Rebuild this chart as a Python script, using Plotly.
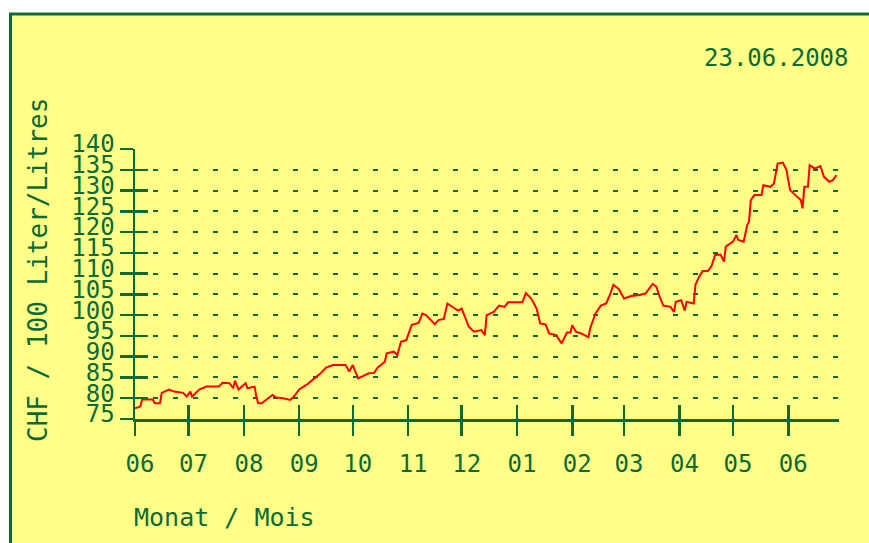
import plotly.graph_objects as go

# ---- data ----
dates = [
    "2007-06-01", "2007-06-04", "2007-06-05", "2007-06-11", "2007-06-12", "2007-06-15",
    "2007-06-16", "2007-06-20", "2007-06-23", "2007-06-28", "2007-06-30", "2007-07-02",
    "2007-07-03", "2007-07-07", "2007-07-11", "2007-07-18", "2007-07-20", "2007-07-24",
    "2007-07-26", "2007-07-27", "2007-07-29", "2007-08-02", "2007-08-03", "2007-08-07",
    "2007-08-08", "2007-08-09", "2007-08-11", "2007-08-15", "2007-08-17", "2007-08-19",
    "2007-08-23", "2007-08-27", "2007-08-29", "2007-09-01", "2007-09-05", "2007-09-09",
    "2007-09-13", "2007-09-16", "2007-09-20", "2007-09-27", "2007-09-29", "2007-10-01",
    "2007-10-04", "2007-10-10", "2007-10-13", "2007-10-15", "2007-10-19", "2007-10-20",
    "2007-10-24", "2007-10-26", "2007-10-28", "2007-10-31", "2007-11-03", "2007-11-07",
    "2007-11-09", "2007-11-11", "2007-11-14", "2007-11-16", "2007-11-18", "2007-11-21",
    "2007-11-23", "2007-11-26", "2007-11-29", "2007-12-01", "2007-12-03", "2007-12-05",
    "2007-12-08", "2007-12-12", "2007-12-14", "2007-12-15", "2007-12-19", "2007-12-22",
    "2007-12-25", "2007-12-27", "2008-01-04", "2008-01-06", "2008-01-09", "2008-01-12",
    "2008-01-14", "2008-01-17", "2008-01-19", "2008-01-23", "2008-01-26", "2008-01-29",
    "2008-01-31", "2008-02-01", "2008-02-03", "2008-02-06", "2008-02-10", "2008-02-11",
    "2008-02-14", "2008-02-17", "2008-02-20", "2008-02-22", "2008-02-24", "2008-02-27",
    "2008-03-01", "2008-03-05", "2008-03-09", "2008-03-13", "2008-03-17", "2008-03-19",
    "2008-03-21", "2008-03-23", "2008-03-27", "2008-03-29", "2008-03-30", "2008-04-02",
    "2008-04-04", "2008-04-05", "2008-04-09", "2008-04-10", "2008-04-12", "2008-04-14",
    "2008-04-17", "2008-04-19", "2008-04-21", "2008-04-24", "2008-04-26", "2008-04-27",
    "2008-05-01", "2008-05-03", "2008-05-04", "2008-05-07", "2008-05-09", "2008-05-10",
    "2008-05-11", "2008-05-13", "2008-05-17", "2008-05-18", "2008-05-22", "2008-05-24",
    "2008-05-26", "2008-05-29", "2008-05-31", "2008-06-01", "2008-06-02", "2008-06-05",
    "2008-06-08", "2008-06-09", "2008-06-10", "2008-06-12", "2008-06-13", "2008-06-16",
    "2008-06-19", "2008-06-21", "2008-06-24", "2008-06-26", "2008-06-28",
]
prices = [
    77.6, 78.0, 79.7, 79.7, 78.8, 78.8,
    81.3, 82.1, 81.6, 81.3, 80.4, 81.6,
    80.4, 82.1, 82.8, 82.8, 83.7, 83.6,
    82.4, 84.2, 82.1, 83.6, 82.4, 82.8,
    80.4, 78.8, 78.8, 80.0, 80.8, 80.2,
    80.0, 79.6, 80.4, 82.1, 83.2, 84.6,
    86.0, 87.4, 88.0, 88.0, 86.4, 88.0,
    84.8, 86.0, 86.1, 87.4, 88.8, 90.8,
    91.2, 90.4, 93.6, 94.0, 97.6, 98.2,
    100.4, 100.0, 98.8, 97.8, 98.8, 99.1,
    102.8, 102.0, 101.1, 101.6, 99.6, 97.2,
    96.0, 96.4, 95.2, 100.0, 100.8, 102.3,
    102.0, 103.1, 103.1, 105.3, 104.0, 101.6,
    98.0, 97.8, 95.6, 95.2, 93.2, 95.8,
    95.8, 97.6, 96.0, 95.6, 94.7, 96.8,
    100.4, 102.3, 102.8, 104.8, 107.3, 106.3,
    104.0, 104.6, 104.8, 105.2, 107.5, 106.9,
    104.4, 102.3, 102.0, 100.8, 103.2, 103.6,
    101.1, 103.2, 102.8, 107.3, 109.2, 110.6,
    110.6, 111.8, 114.5, 114.6, 112.9, 116.5,
    117.7, 119.3, 118.1, 117.7, 121.7, 122.5,
    127.7, 128.9, 128.9, 131.3, 130.9, 131.7,
    136.5, 136.7, 134.9, 132.5, 130.1, 128.9,
    127.7, 125.7, 130.9, 130.9, 136.1, 135.3,
    135.9, 133.3, 132.1, 132.5, 133.7,
]
month_ticks = [
    "2007-06-01", "2007-07-01", "2007-08-01", "2007-09-01", "2007-10-01", "2007-11-01",
    "2007-12-01", "2008-01-01", "2008-02-01", "2008-03-01", "2008-04-01", "2008-05-01",
    "2008-06-01",
]
month_labels = ["06", "07", "08", "09", "10", "11", "12", "01", "02", "03", "04", "05", "06"]
y_ticks = [75, 80, 85, 90, 95, 100, 105, 110, 115, 120, 125, 130, 135, 140]
y_title = "CHF / 100 Liter/Litres"
x_title = "Monat / Mois"
date_label = "23.06.2008"

# ---- style ----
GREEN = "#0b6a35"
YELLOW = "#ffff88"
FONT = "DejaVu Sans Mono"
W, H = 869, 543
PAGE_L, PAGE_R, PAGE_T, PAGE_B = 135, 839, 149, 419   # plot area in pixels
L, T = PAGE_L, PAGE_T
R = W - PAGE_R
B = H - PAGE_B
PW, PH = PAGE_R - PAGE_L, PAGE_B - PAGE_T


def px_x(x):
    return (x - PAGE_L) / PW


def px_y(y):
    return (PAGE_B - y) / PH


x_range = ["2007-06-01", "2008-06-29 10:00"]
y_range = [75, 140]

fig = go.Figure()
fig.add_trace(go.Scatter(
    x=dates, y=prices, mode="lines",
    line=dict(color="#ff0000", width=2),
    showlegend=False, hoverinfo="skip",
))
# invisible companion trace to carry the overlay axes (inside half of the crossing ticks)
fig.add_trace(go.Scatter(
    x=dates, y=prices, mode="lines", xaxis="x2", yaxis="y2",
    line=dict(color="rgba(0,0,0,0)", width=0),
    showlegend=False, hoverinfo="skip",
))

axis_font = dict(family=FONT, size=24, color=GREEN)

fig.update_layout(
    width=W, height=H,
    margin=dict(l=L, r=R, t=T, b=B, pad=0),
    paper_bgcolor="white",
    plot_bgcolor="rgba(0,0,0,0)",
    hovermode=False,
    xaxis=dict(
        type="date", range=x_range,
        tickmode="array", tickvals=month_ticks, ticktext=month_labels,
        ticks="outside", ticklen=14, tickwidth=2.5, tickcolor=GREEN,
        showline=True, linecolor=GREEN, linewidth=2.5,
        showgrid=False, zeroline=False,
        tickfont=axis_font, ticklabelshift=5, ticklabelstandoff=8,
    ),
    yaxis=dict(
        range=y_range,
        tickmode="array", tickvals=y_ticks,
        ticks="outside", ticklen=13, tickwidth=2.5, tickcolor=GREEN,
        showline=True, linecolor=GREEN, linewidth=2.5,
        showgrid=True, gridcolor=GREEN, gridwidth=2, griddash="3px,15px,2px,0px",
        zeroline=False,
        tickfont=axis_font, ticklabelshift=-5, ticklabelstandoff=0,
    ),
    xaxis2=dict(
        type="date", range=x_range, overlaying="x", anchor="y2", side="bottom",
        tickmode="array", tickvals=month_ticks,
        ticks="inside", ticklen=14, tickwidth=2.5, tickcolor=GREEN,
        showticklabels=False, showline=False, showgrid=False, zeroline=False,
    ),
    yaxis2=dict(
        range=y_range, overlaying="y", anchor="x2", side="left",
        tickmode="array", tickvals=y_ticks,
        ticks="inside", ticklen=13, tickwidth=2.5, tickcolor=GREEN,
        showticklabels=False, showline=False, showgrid=False, zeroline=False,
    ),
    shapes=[dict(
        type="rect", xref="paper", yref="paper", layer="below",
        x0=px_x(10.5), x1=px_x(900), y0=px_y(600), y1=px_y(14),
        line=dict(color=GREEN, width=3), fillcolor=YELLOW,
    )],
    annotations=[
        dict(text=y_title, xref="paper", yref="paper", x=px_x(38), y=px_y(270),
             xanchor="center", yanchor="middle", textangle=-90, showarrow=False,
             font=dict(family=FONT, size=26, color=GREEN)),
        dict(text=x_title, xref="paper", yref="paper", x=px_x(132), y=px_y(517),
             xanchor="left", yanchor="middle", showarrow=False,
             font=dict(family=FONT, size=25, color=GREEN)),
        dict(text=date_label, xref="paper", yref="paper", x=px_x(851), y=px_y(58),
             xanchor="right", yanchor="middle", showarrow=False,
             font=dict(family=FONT, size=24, color=GREEN)),
    ],
)

fig.write_html(
    "out.html",
    config={"displayModeBar": False, "staticPlot": True},
    post_script="document.body.style.margin='0';document.body.style.overflow='hidden';",
)
